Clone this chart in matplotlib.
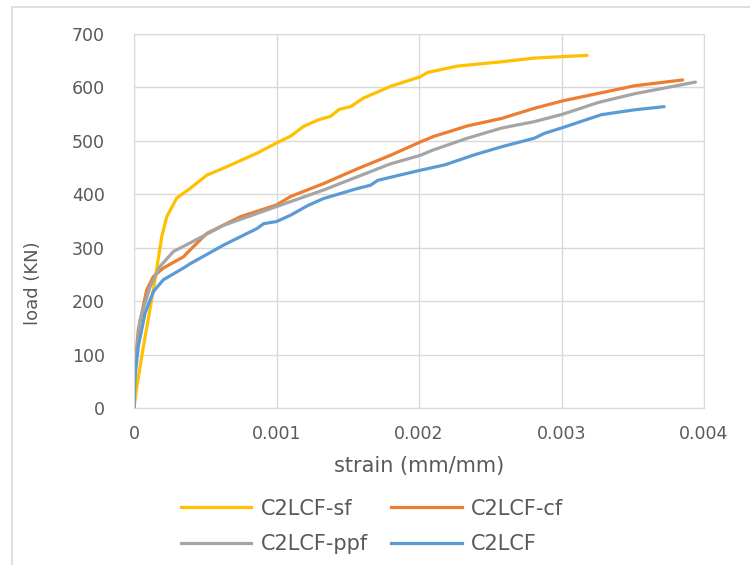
import matplotlib
matplotlib.use('Agg')
import matplotlib.pyplot as plt
from matplotlib.lines import Line2D

plt.rcParams['font.family'] = ['DejaVu Sans']

# 数据 (strain, load)
sf_strain = [0, 0.00002, 0.000066, 0.000136, 0.000195, 0.00023, 0.0003, 0.000394, 0.000512,
             0.000629, 0.000864, 0.001, 0.0011, 0.00119, 0.00129, 0.00138, 0.00144, 0.00152,
             0.00161, 0.0018, 0.00201, 0.00206, 0.00227, 0.00258, 0.00281, 0.00318]
sf_load = [0, 40, 115, 221, 321, 358, 393, 411, 436,
           449, 477, 496, 509, 527, 539, 546, 559, 564,
           580, 602, 620, 628, 640, 648, 655, 660]

cf_strain = [0, 0.000007, 0.00003, 0.000089, 0.000136, 0.000206, 0.000347, 0.000394, 0.000512,
             0.000746, 0.001, 0.0011, 0.00133, 0.00157, 0.0018, 0.00201, 0.0021, 0.00234,
             0.00258, 0.00281, 0.00301, 0.00328, 0.00351, 0.00385]
cf_load = [0, 77, 146, 221, 246, 262, 283, 296, 327,
           358, 380, 396, 420, 448, 473, 498, 508, 528,
           542, 561, 575, 590, 603, 614]

ppf_strain = [0, 0.000005, 0.000042, 0.000113, 0.000183, 0.000277, 0.000394, 0.000629, 0.001,
              0.00133, 0.00157, 0.0018, 0.00201, 0.0021, 0.00234, 0.00258, 0.00281, 0.00301,
              0.00326, 0.00351, 0.00394]
ppf_load = [0, 65, 165, 227, 265, 293, 309, 342, 377,
            408, 433, 457, 473, 483, 505, 524, 536, 550,
            572, 588, 610]

c2_strain = [0, 0.000005, 0.00003, 0.000077, 0.000136, 0.000206, 0.000347, 0.000394, 0.000629,
             0.000864, 0.00091, 0.001, 0.0011, 0.00122, 0.00133, 0.00157, 0.00166, 0.00171,
             0.00185, 0.00201, 0.00218, 0.00239, 0.00258, 0.00281, 0.00288, 0.00301,
             0.00328, 0.00351, 0.00372]
c2_load = [0, 52, 115, 177, 218, 240, 262, 270, 305,
           336, 345, 349, 361, 379, 392, 411, 417, 426,
           435, 445, 455, 474, 489, 505, 514, 525,
           549, 558, 564]

series = [
    ('C2LCF-sf', sf_strain, sf_load, '#FFC000'),
    ('C2LCF-cf', cf_strain, cf_load, '#ED7D31'),
    ('C2LCF-ppf', ppf_strain, ppf_load, '#A5A5A5'),
    ('C2LCF', c2_strain, c2_load, '#5B9BD5'),
]

fig = plt.figure(figsize=(7.5, 5.65), dpi=100)
ax = fig.add_axes([134 / 750, 1 - 408 / 565, 570 / 750, 374 / 565])

handles = {}
for name, xs, ys, col in series:
    line, = ax.plot(xs, ys, color=col, lw=2.3, solid_capstyle='round')
    handles[name] = line

ax.set_xlim(0, 0.004)
ax.set_ylim(0, 700)
ax.set_xticks([0, 0.001, 0.002, 0.003, 0.004])
ax.set_xticklabels(['0', '0.001', '0.002', '0.003', '0.004'])
ax.set_yticks(range(0, 701, 100))
ax.grid(True, color='#d9d9d9', lw=1)
ax.set_axisbelow(True)
for s in ax.spines.values():
    s.set_color('#d9d9d9')
ax.tick_params(length=0, labelsize=12.5, colors='#595959')
ax.tick_params(axis='x', pad=12)
ax.tick_params(axis='y', pad=21)

ax.set_xlabel('strain (mm/mm)', fontsize=15, color='#595959')
ax.set_ylabel('load (KN)', fontsize=13, color='#595959')
ax.yaxis.set_label_coords(-0.161, 0.334)
ax.xaxis.set_label_coords(0.5, -0.128)

# 图例
order = ['C2LCF-sf', 'C2LCF-ppf', 'C2LCF-cf', 'C2LCF']
leg_handles = [Line2D([], [], color=handles[n].get_color(), lw=2.3) for n in order]
fig.legend(leg_handles, order, loc='center', bbox_to_anchor=(0.496, 0.068), ncol=2,
           frameon=False, fontsize=15, handlelength=3.4, handletextpad=0.45,
           columnspacing=1.1, labelspacing=0.75, labelcolor='#595959')

# 外框
fig.add_artist(Line2D([12 / 750, 12 / 750], [0, 1 - 7 / 565], color='#d9d9d9', lw=1.2))
fig.add_artist(Line2D([12 / 750, 1], [1 - 7 / 565, 1 - 7 / 565], color='#d9d9d9', lw=1.2))

fig.savefig('out.png', dpi=100)
